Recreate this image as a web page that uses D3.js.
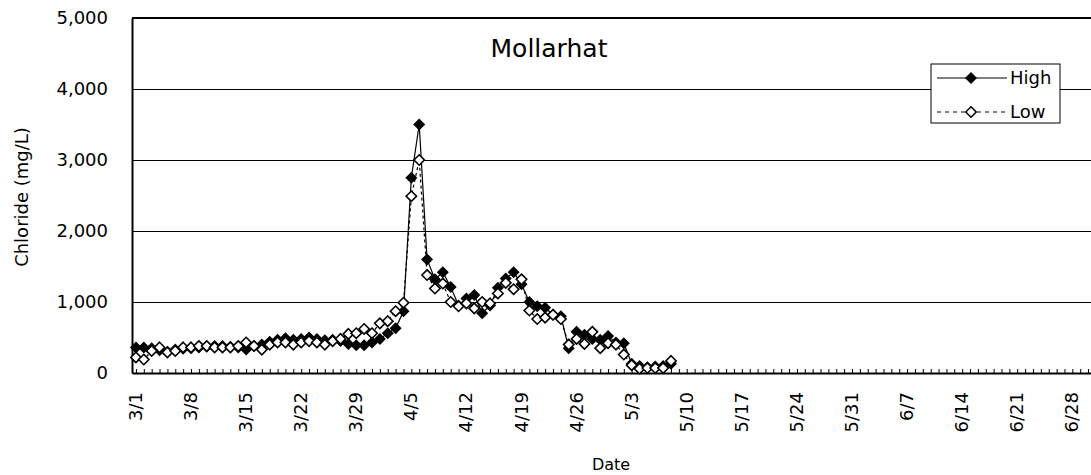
<!DOCTYPE html>
<html>
<head>
<meta charset="utf-8">
<script src="https://cdn.jsdelivr.net/npm/d3@7"></script>
<style>
  body { margin: 0; background: #fff; overflow: hidden; }
  text { font-family: "DejaVu Sans", sans-serif; fill: #000; }
</style>
</head>
<body>
<div id="chart"></div>
<script>

// data, one value per day starting 3/1
var firstDate = "3/1";
var highValues = [360, 360, 350, 320, 300, 330, 340, 350, 360, 370,
                  380, 380, 370, 360, 330, 380, 400, 440, 470, 490,
                  470, 480, 500, 480, 460, 470, 450, 410, 390, 390,
                  430, 480, 560, 630, 870, 2750, 3500, 1600, 1320, 1420,
                  1210, 950, 1050, 1100, 840, 950, 1200, 1330, 1420, 1250,
                  1000, 940, 920, 820, 800, 350, 580, 540, 480, 470,
                  520, 430, 420, 130, 100, 80, 90, 100, 130];
var lowValues = [220, 190, 310, 360, 290, 310, 360, 360, 380, 380,
                 360, 360, 360, 380, 430, 380, 330, 400, 430, 430,
                 400, 430, 450, 430, 400, 450, 480, 550, 560, 620,
                 560, 700, 730, 870, 990, 2490, 3000, 1380, 1190, 1260,
                 1000, 940, 980, 910, 1000, 980, 1120, 1270, 1180, 1320,
                 880, 760, 780, 820, 760, 400, 480, 410, 580, 350,
                 420, 400, 260, 110, 60, 70, 70, 70, 170];
var seriesNames = ["High", "Low"];
var xTickLabels = ["3/1", "3/8", "3/15", "3/22", "3/29", "4/5", "4/12", "4/19", "4/26",
                   "5/3", "5/10", "5/17", "5/24", "5/31", "6/7", "6/14", "6/21", "6/28"];
var yTickValues = [0, 1000, 2000, 3000, 4000, 5000];
var xDomainLabels = ["3/1", "6/30"];

// set the dimensions and margins of the graph
var margin = {top: 18, right: -1, bottom: 102, left: 132},
    width = 960,
    height = 355;

var parseDate = d3.timeParse("%m/%d");
var start = parseDate(firstDate);

var svg = d3.select("#chart")
  .append("svg")
    .attr("width", 1091)
    .attr("height", 475)
  .append("g")
    .attr("transform", "translate(" + margin.left + "," + margin.top + ")");

// Add X scale (half a day of padding either side, like a category axis)
var x = d3.scaleTime()
  .domain([d3.timeHour.offset(parseDate(xDomainLabels[0]), -12),
           d3.timeHour.offset(parseDate(xDomainLabels[1]), 12)])
  .range([0, width]);

// Add Y scale
var y = d3.scaleLinear()
  .domain([0, 5000])
  .range([height, 0]);

// horizontal gridlines
svg.append("g")
  .attr("class", "grid")
  .call(d3.axisLeft(y).tickValues(yTickValues.slice(1, -1)).tickSize(-width).tickFormat(""))
  .call(function(g) { g.select(".domain").remove(); })
  .selectAll("line")
    .attr("stroke", "#000")
    .attr("stroke-width", 1);

// top border of plot area
svg.append("line")
  .attr("x1", 0).attr("x2", width)
  .attr("y1", y(5000)).attr("y2", y(5000))
  .attr("stroke", "#000")
  .attr("stroke-width", 2);

// Y axis
var yAxis = svg.append("g")
  .call(d3.axisLeft(y).tickValues(yTickValues).tickSize(0).tickPadding(24)
          .tickFormat(d3.format(",")));
yAxis.select(".domain").attr("stroke-width", 2);
yAxis.selectAll("text")
  .style("font-size", "18px")
  .style("font-family", "DejaVu Sans");

// X axis: daily minor ticks pointing up
var xAxis = svg.append("g")
  .attr("transform", "translate(0," + height + ")")
  .call(d3.axisBottom(x).ticks(d3.timeDay.every(1)).tickSizeInner(-4).tickSizeOuter(0)
          .tickFormat(""));
xAxis.select(".domain").attr("stroke-width", 2);

// X axis labels every 7 days, rotated
svg.append("g")
  .selectAll("text")
  .data(xTickLabels)
  .enter()
  .append("text")
    .attr("transform", function(d) {
      return "translate(" + (x(parseDate(d)) + 6) + "," + (height + 19) + ") rotate(-90)";
    })
    .attr("text-anchor", "end")
    .style("font-size", "18px")
    .text(function(d) { return d; });

// axis titles
svg.append("text")
  .attr("x", 611 - margin.left)
  .attr("y", 470 - margin.top)
  .attr("text-anchor", "middle")
  .style("font-size", "16px")
  .text("Date");

svg.append("text")
  .attr("transform", "translate(" + (28 - margin.left) + "," + (197 - margin.top) + ") rotate(-90)")
  .attr("text-anchor", "middle")
  .style("font-size", "18px")
  .text("Chloride (mg/L)");

// chart title
svg.append("text")
  .attr("x", 549 - margin.left)
  .attr("y", 57 - margin.top)
  .attr("text-anchor", "middle")
  .style("font-size", "25px")
  .text("Mollarhat");

var dayOf = function(i) { return d3.timeDay.offset(start, i); };

var line = d3.line()
  .x(function(d, i) { return x(dayOf(i)); })
  .y(function(d) { return y(d); });

var diamond = function(r) {
  return "M0," + (-r) + "L" + r + ",0L0," + r + "L" + (-r) + ",0Z";
};

// High series
svg.append("path")
  .datum(highValues)
  .attr("fill", "none")
  .attr("stroke", "#000")
  .attr("stroke-width", 1.2)
  .attr("d", line);

svg.append("g")
  .selectAll("path")
  .data(highValues)
  .enter()
  .append("path")
    .attr("transform", function(d, i) { return "translate(" + x(dayOf(i)) + "," + y(d) + ")"; })
    .attr("d", diamond(6))
    .attr("fill", "#000");

// Low series
svg.append("path")
  .datum(lowValues)
  .attr("fill", "none")
  .attr("stroke", "#000")
  .attr("stroke-width", 1.2)
  .attr("stroke-dasharray", "3,3")
  .attr("d", line);

svg.append("g")
  .selectAll("path")
  .data(lowValues)
  .enter()
  .append("path")
    .attr("transform", function(d, i) { return "translate(" + x(dayOf(i)) + "," + y(d) + ")"; })
    .attr("d", diamond(5.2))
    .attr("fill", "#fff")
    .attr("stroke", "#000")
    .attr("stroke-width", 1.6);

// Legend
var legend = svg.append("g")
  .attr("transform", "translate(" + (931 - margin.left) + "," + (64 - margin.top) + ")");

legend.append("rect")
  .attr("width", 129)
  .attr("height", 59)
  .attr("fill", "#fff")
  .attr("stroke", "#000")
  .attr("stroke-width", 1);

legend.selectAll("g")
  .data(seriesNames)
  .enter()
  .append("g")
    .attr("transform", function(d, i) { return "translate(0," + (14 + i * 34) + ")"; })
    .each(function(d, i) {
      var g = d3.select(this);
      g.append("line")
        .attr("x1", 6).attr("x2", 76)
        .attr("stroke", "#000")
        .attr("stroke-width", 1.2)
        .attr("stroke-dasharray", i === 0 ? null : "4,4");
      g.append("path")
        .attr("transform", "translate(40,0)")
        .attr("d", i === 0 ? diamond(6) : diamond(5.2))
        .attr("fill", i === 0 ? "#000" : "#fff")
        .attr("stroke", i === 0 ? "none" : "#000")
        .attr("stroke-width", 1.6);
      g.append("text")
        .attr("x", 79)
        .attr("dy", "0.35em")
        .style("font-size", "18px")
        .text(d);
    });

</script>
</body>
</html>
